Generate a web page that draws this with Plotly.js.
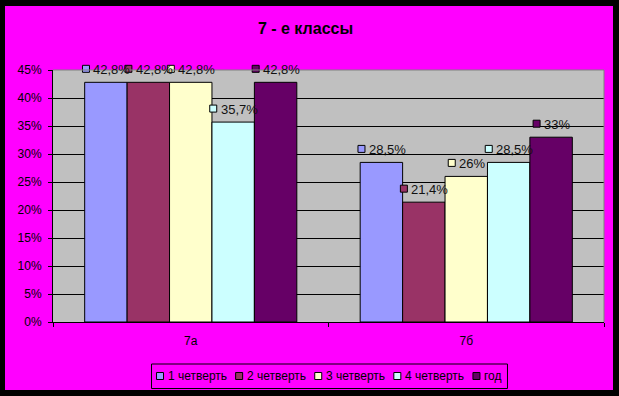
<!DOCTYPE html>
<html>
<head>
<meta charset="utf-8">
<script src="https://cdn.plot.ly/plotly-3.0.1.min.js"></script>
<style>
  html, body { margin: 0; padding: 0; background: #000; width: 619px; height: 396px; overflow: hidden; }
  #chart { position: absolute; left: 5px; top: 6px; width: 608px; height: 384px; }
</style>
</head>
<body>
<div id="chart"></div>
<script>
// ---- data ----
const categories = ['7а', '7б'];
const seriesNames = ['1 четверть', '2 четверть', '3 четверть', '4 четверть', 'год'];
const quarter1 = [42.8, 28.5];
const quarter2 = [42.8, 21.4];
const quarter3 = [42.8, 26];
const quarter4 = [35.7, 28.5];
const yearValues = [42.8, 33];
const yTickValues = [0, 5, 10, 15, 20, 25, 30, 35, 40, 45];
const titleText = '7 - е классы';

// ---- style ----
const seriesValues = [quarter1, quarter2, quarter3, quarter4, yearValues];
const colors = ['#9999FF', '#993366', '#FFFFCC', '#CCFFFF', '#660066'];
const FONT = 'Arial, "Liberation Sans", sans-serif';
const bargap = 0.23;
const yMax = 45;
const W = 608, H = 384;
const M = {l: 48, r: 9, t: 64, b: 68};
const plotW = W - M.l - M.r, plotH = H - M.t - M.b;

const canvas = document.createElement('canvas');
const ctx = canvas.getContext('2d');
function tw(s, size) { ctx.font = size + 'px "Liberation Sans", Arial'; return ctx.measureText(s).width; }
function fmt(v) { return String(v).replace('.', ',') + '%'; }

const traces = seriesValues.map((vals, i) => ({
  type: 'bar',
  name: seriesNames[i],
  x: categories,
  y: vals,
  marker: {color: colors[i], line: {color: '#000', width: 1}},
  hoverinfo: 'skip',
  showlegend: false
}));

const shapes = [];
const annotations = [];
const n = seriesValues.length;
const bw = (1 - bargap) / n;
const LBL = 13;

// data labels with legend key squares
seriesValues.forEach((vals, i) => {
  vals.forEach((v, ci) => {
    const xa = ci + (i - (n - 1) / 2) * bw;
    const txt = fmt(v);
    const gw = 7 + 3 + tw(txt, LBL);
    const left = -gw / 2;
    shapes.push({
      type: 'rect', xref: 'x', yref: 'paper',
      xsizemode: 'pixel', ysizemode: 'pixel',
      xanchor: xa, yanchor: v / yMax,
      x0: left, x1: left + 7, y0: 10, y1: 17,
      fillcolor: colors[i], line: {color: '#000', width: 1}, layer: 'above'
    });
    annotations.push({
      xref: 'x', yref: 'y', x: xa, y: v,
      xanchor: 'left', yanchor: 'middle',
      xshift: left + 9, yshift: 13,
      text: txt, showarrow: false,
      font: {family: FONT, size: LBL, color: '#111'}
    });
  });
});

// plot area border (top/right)
shapes.push({type: 'line', xref: 'paper', yref: 'paper', x0: 0, x1: 1, y0: 1, y1: 1,
  line: {color: '#808080', width: 1}, layer: 'above'});
shapes.push({type: 'line', xref: 'paper', yref: 'paper', x0: 1, x1: 1, y0: 0, y1: 1,
  line: {color: '#808080', width: 1}, layer: 'above'});

// manual legend
const px2x = px => (px - M.l) / plotW;       // px relative to div
const py2y = py => (M.t + plotH - py) / plotH;
let widths = seriesNames.map(s => 10 + tw(s, 12));
const itemGap = 10;
const total = widths.reduce((a, b) => a + b, 0) + itemGap * (n - 1);
const boxPadL = 5, boxPadR = 7;
const center = M.l + plotW / 2;
let x = center - total / 2;
const legY = 370;  // div coords (center of legend row)
shapes.push({type: 'rect', xref: 'paper', yref: 'paper',
  x0: px2x(x - boxPadL), x1: px2x(x + total + boxPadR),
  y0: py2y(legY - 12), y1: py2y(legY + 12.5),
  line: {color: '#000', width: 1}, fillcolor: 'rgba(0,0,0,0)', layer: 'above'});
seriesNames.forEach((name, i) => {
  shapes.push({type: 'rect', xref: 'paper', yref: 'paper',
    x0: px2x(x), x1: px2x(x + 7), y0: py2y(legY - 3.5), y1: py2y(legY + 3.5),
    fillcolor: colors[i], line: {color: '#000', width: 1}, layer: 'above'});
  annotations.push({xref: 'paper', yref: 'paper', x: px2x(x + 9), y: py2y(legY),
    xanchor: 'left', yanchor: 'middle', text: name, showarrow: false,
    font: {family: FONT, size: 12, color: '#000'}});
  x += widths[i] + itemGap;
});

const layout = {
  width: W, height: H,
  paper_bgcolor: '#FF00FF',
  plot_bgcolor: '#C0C0C0',
  margin: M,
  barmode: 'group',
  bargap: bargap,
  bargroupgap: 0,
  showlegend: false,
  title: {text: titleText, xref: 'container', yref: 'container', x: 300.5 / W, y: 1 - 22 / H,
    xanchor: 'center', yanchor: 'middle',
    font: {family: FONT, size: 16, color: '#000', weight: 'bold'}},
  xaxis: {
    type: 'category',
    showgrid: false,
    showline: true, linecolor: '#000', linewidth: 1,
    ticks: 'outside', ticklen: 4, tickcolor: '#000', tickwidth: 1,
    tickson: 'boundaries',
    ticklabelstandoff: 8,
    tickfont: {family: FONT, size: 12, color: '#000'},
    fixedrange: true
  },
  yaxis: {
    range: [0, yMax],
    tickvals: yTickValues,
    ticktext: yTickValues.map(v => v + '%'),
    showgrid: true, gridcolor: '#000', gridwidth: 1,
    zeroline: false,
    showline: true, linecolor: '#000', linewidth: 1,
    ticks: 'outside', ticklen: 4, tickcolor: '#000', tickwidth: 1,
    ticklabelstandoff: 4,
    tickfont: {family: FONT, size: 12, color: '#000'},
    fixedrange: true
  },
  shapes: shapes,
  annotations: annotations
};

Plotly.newPlot('chart', traces, layout, {staticPlot: true, displayModeBar: false});
</script>
</body>
</html>
